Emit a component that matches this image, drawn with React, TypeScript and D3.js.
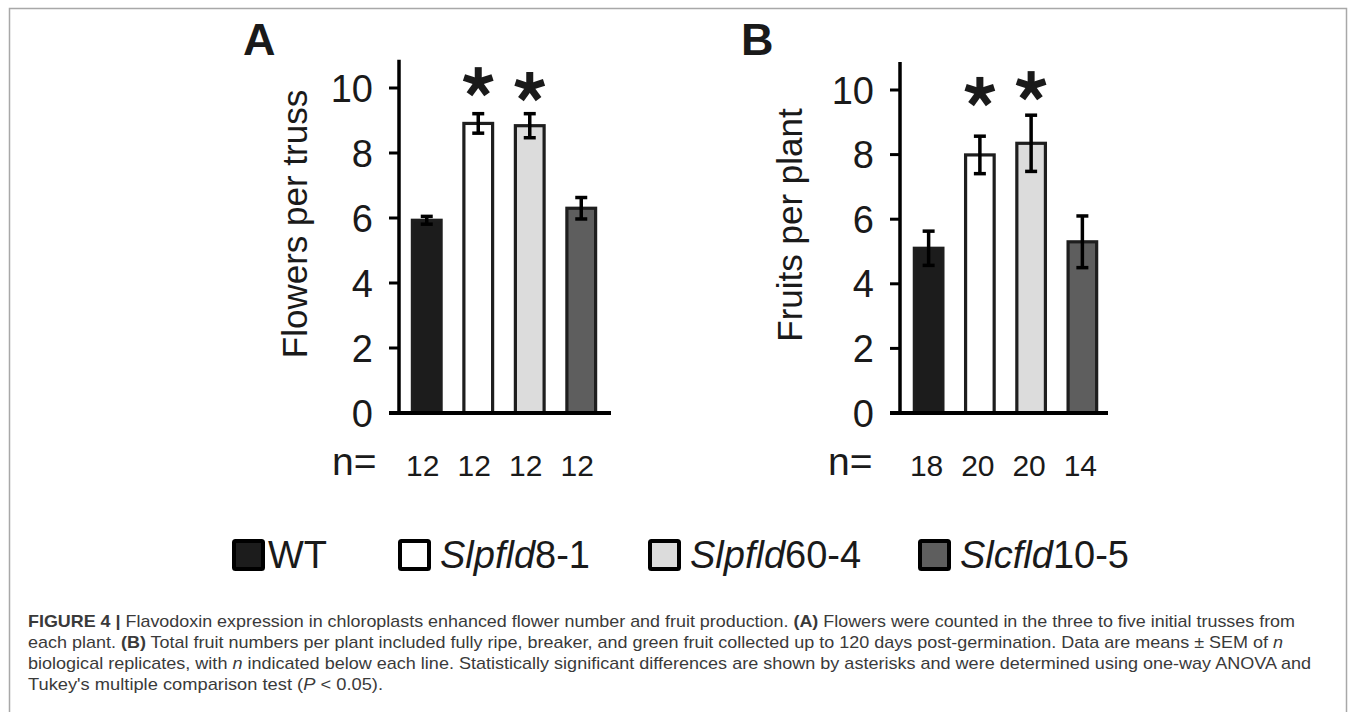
import React from "react";
import * as d3 from "d3";

const categories = ["WT", "Slpfld8-1", "Slpfld60-4", "Slcfld10-5"];
const fills = ["#1c1c1c", "#ffffff", "#dcdcdc", "#5e5e5e"];

const flowersMean = [5.93, 8.91, 8.84, 6.3];
const flowersSem = [0.12, 0.3, 0.37, 0.33];
const flowersN = ["12", "12", "12", "12"];
const flowersStars = [null, 10.18, 10.03, null];

const fruitsMean = [5.1, 7.99, 8.35, 5.3];
const fruitsSem = [0.53, 0.58, 0.87, 0.8];
const fruitsN = ["18", "20", "20", "14"];
const fruitsStars = [null, 9.94, 10.12, null];

const yTicks = [0, 2, 4, 6, 8, 10];

const FONT = "'Liberation Sans', Arial, Helvetica, sans-serif";

const starAngles = [-90, -18, 54, 126, 198];

function Asterisk({ cx, cy }: { cx: number; cy: number }) {
  const r = 15;
  return (
    <g stroke="#1a1a1a" strokeWidth={7}>
      {starAngles.map((a) => {
        const t = (a * Math.PI) / 180;
        return <line key={a} x1={cx} y1={cy} x2={cx + r * Math.cos(t)} y2={cy + r * Math.sin(t)} />;
      })}
    </g>
  );
}

type PanelProps = {
  letter: string;
  label: string;
  means: number[];
  sems: number[];
  ns: string[];
  stars: (number | null)[];
  axisX: number;
  y0: number;
  y10: number;
  barRange: [number, number];
  baseRight: number;
  labelX: number;
  labelY: number;
  letterX: number;
  nX: number;
  nOffset: number;
};

function Panel(p: PanelProps) {
  const y = d3.scaleLinear().domain([0, 10]).range([p.y0, p.y10]);
  const x = d3
    .scaleBand<string>()
    .domain(categories)
    .range(p.barRange)
    .paddingInner(0.38)
    .paddingOuter(0.19);
  const bw = x.bandwidth();
  const sw = 3.2;
  return (
    <g>
      <text x={p.letterX} y={55} fontSize={45} fontWeight="bold" fill="#1a1a1a" fontFamily={FONT}>
        {p.letter}
      </text>
      <text
        transform={`translate(${p.labelX},${p.labelY}) rotate(-90)`}
        textAnchor="middle"
        fontSize={35}
        fill="#1a1a1a"
        fontFamily={FONT}
      >
        {p.label}
      </text>
      {categories.map((c, i) => {
        const x0 = (x(c) as number) + sw / 2;
        const top = y(p.means[i]);
        return (
          <rect
            key={c}
            x={x0}
            y={top}
            width={bw - sw}
            height={p.y0 - top}
            fill={fills[i]}
            stroke="#1e1e1e"
            strokeWidth={sw}
          />
        );
      })}
      {categories.map((c, i) => {
        const cx = (x(c) as number) + bw / 2;
        const hi = y(p.means[i] + p.sems[i]);
        const lo = y(p.means[i] - p.sems[i]);
        return (
          <g key={c} stroke="#000" strokeWidth={3.5}>
            <line x1={cx} x2={cx} y1={hi} y2={lo} />
            <line x1={cx - 6} x2={cx + 6} y1={hi} y2={hi} />
            <line x1={cx - 6} x2={cx + 6} y1={lo} y2={lo} />
          </g>
        );
      })}
      {categories.map((c, i) => {
        const s = p.stars[i];
        if (s == null) return null;
        const cx = (x(c) as number) + bw / 2;
        return <Asterisk key={c} cx={cx} cy={y(s)} />;
      })}
      <line x1={p.axisX} x2={p.axisX} y1={p.y0} y2={y(10.87)} stroke="#000" strokeWidth={3.5} />
      <line x1={p.axisX - 10} x2={p.baseRight} y1={p.y0} y2={p.y0} stroke="#000" strokeWidth={4} />
      {yTicks.map((t) => (
        <g key={t}>
          <line x1={p.axisX - 10} x2={p.axisX} y1={y(t)} y2={y(t)} stroke="#000" strokeWidth={3} />
          <text
            x={p.axisX - 26}
            y={y(t)}
            dy="0.36em"
            textAnchor="end"
            fontSize={38}
            fill="#1a1a1a"
            fontFamily={FONT}
          >
            {t}
          </text>
        </g>
      ))}
      <text x={p.nX} y={475} fontSize={39} fill="#1a1a1a" fontFamily={FONT}>
        n=
      </text>
      {categories.map((c, i) => (
        <text
          key={c}
          x={(x(c) as number) + bw / 2 + p.nOffset}
          y={476}
          textAnchor="middle"
          fontSize={30}
          fill="#1a1a1a"
          fontFamily={FONT}
        >
          {p.ns[i]}
        </text>
      ))}
    </g>
  );
}

const legendX = [232, 398, 648, 918];
const legendLabels: [string, string][] = [
  ["", "WT"],
  ["Slpfld", "8-1"],
  ["Slpfld", "60-4"],
  ["Slcfld", "10-5"],
];

export default function App() {
  return (
    <svg
      width={1355}
      height={712}
      style={{ position: "absolute", left: 0, top: 0, background: "#fff" }}
      fontFamily={FONT}
    >
      <rect x={0} y={0} width={1355} height={712} fill="#fff" />
      <rect x={9.5} y={8.5} width={1337} height={720} fill="none" stroke="#a8a8a8" strokeWidth={1.5} />
      <Panel
        letter="A"
        label="Flowers per truss"
        means={flowersMean}
        sems={flowersSem}
        ns={flowersN}
        stars={flowersStars}
        axisX={399}
        y0={413}
        y10={88}
        barRange={[401, 607]}
        baseRight={611}
        labelX={307}
        labelY={224}
        letterX={243}
        nX={332}
        nOffset={-4}
      />
      <Panel
        letter="B"
        label="Fruits per plant"
        means={fruitsMean}
        sems={fruitsSem}
        ns={fruitsN}
        stars={fruitsStars}
        axisX={900}
        y0={413}
        y10={90}
        barRange={[903, 1108]}
        baseRight={1108}
        labelX={802}
        labelY={225}
        letterX={741}
        nX={828}
        nOffset={-2}
      />
      {legendLabels.map((l, i) => (
        <g key={i}>
          <rect
            x={legendX[i] + 2}
            y={541}
            width={29}
            height={28}
            fill={fills[i]}
            stroke="#000"
            strokeWidth={4}
            rx={1.5}
          />
          <text x={legendX[i] + (i === 0 ? 36 : 42)} y={568} fontSize={38} fill="#1a1a1a" fontFamily={FONT}>
            {l[0] && <tspan fontStyle="italic">{l[0]}</tspan>}
            <tspan>{l[1]}</tspan>
          </text>
        </g>
      ))}
      <g fontSize={17} fill="#3a3a3a" fontFamily={FONT}>
        <text x={28} y={627} textLength={1267} lengthAdjust="spacingAndGlyphs">
          <tspan fontWeight="bold">FIGURE 4 |</tspan> Flavodoxin expression in chloroplasts enhanced flower number and fruit
          production. <tspan fontWeight="bold">(A)</tspan> Flowers were counted in the three to five initial trusses from
        </text>
        <text x={28} y={648} textLength={1255} lengthAdjust="spacingAndGlyphs">
          each plant. <tspan fontWeight="bold">(B)</tspan> Total fruit numbers per plant included fully ripe, breaker, and
          green fruit collected up to 120 days post-germination. Data are means ± SEM of <tspan fontStyle="italic">n</tspan>
        </text>
        <text x={28} y={669} textLength={1283} lengthAdjust="spacingAndGlyphs">
          biological replicates, with <tspan fontStyle="italic">n</tspan> indicated below each line. Statistically
          significant differences are shown by asterisks and were determined using one-way ANOVA and
        </text>
        <text x={28} y={690} textLength={355} lengthAdjust="spacingAndGlyphs">
          Tukey's multiple comparison test (<tspan fontStyle="italic">P</tspan> &lt; 0.05).
        </text>
      </g>
    </svg>
  );
}
